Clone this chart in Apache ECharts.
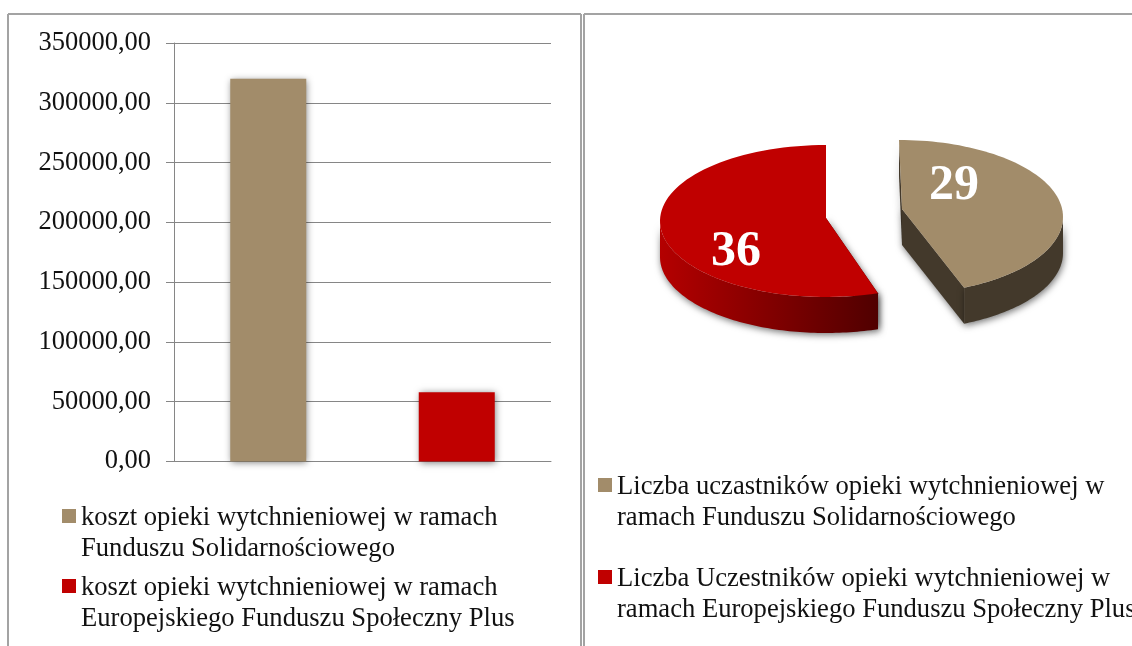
<!DOCTYPE html>
<html>
<head>
<meta charset="utf-8">
<style>html,body{margin:0;padding:0;background:#fff;overflow:hidden}#c{width:1132px;height:646px}</style>
<script src="https://cdn.jsdelivr.net/npm/echarts@6/dist/echarts.min.js"></script>
</head>
<body>
<div id="c"></div>
<script>
const costCategories = ['koszt opieki wytchnieniowej w ramach\nFunduszu Solidarnościowego', 'koszt opieki wytchnieniowej w ramach\nEuropejskiego Funduszu Społeczny Plus'];
const costValues = [320000, 58000];
const participantCategories = ['Liczba uczastników opieki wytchnieniowej w\nramach Funduszu Solidarnościowego', 'Liczba Uczestników opieki wytchnieniowej w\nramach Europejskiego Funduszu Społeczny Plus'];
const participantValues = [29, 36];
const colors = ['#a28c6a', '#c00000'];

const FONT = '"Liberation Serif","Times New Roman",serif';
const TEXT = '#111111';
const total = participantValues.reduce((a, b) => a + b, 0);

// Layout of each exploded slice (an elliptical pie seen in perspective)
const sliceLayout = [
  { cx: 899, cy: 217, rx: 164, ry: 77, apexDx: 3, apexDy: -8, skew0: 0, skew1: -0.07, labelDx: 55, labelDy: -31,
    wall: '#43392b', cut: '#43392b' },
  { cx: 826, cy: 221, rx: 166, ry: 76, apexDx: 0, apexDy: -3, skew0: 0.02, skew1: 0, labelDx: -90, labelDy: 31,
    wall: { type: 'linear', x: 0, y: 0, x2: 1, y2: 0, colorStops: [
      { offset: 0, color: '#b40000' }, { offset: 1, color: '#500000' } ] }, cut: '#4a0000' }
];
const DEPTH = 36;

function sliceRenderer(idx) {
  return function (params, api) {
    const value = api.value(0);
    const L = sliceLayout[idx];
    let before = 0;
    for (let i = 0; i < idx; i++) before += participantValues[i];
    const t0 = before / total * Math.PI * 2 + L.skew0;
    const t1 = (before + value) / total * Math.PI * 2 + L.skew1;
    const pt = t => [L.cx + L.rx * Math.sin(t), L.cy - L.ry * Math.cos(t)];
    const down = p => [p[0], p[1] + DEPTH];
    const apex = [L.cx + L.apexDx, L.cy + L.apexDy];
    const STEPS = 80;
    const arc = [];
    for (let i = 0; i <= STEPS; i++) arc.push(pt(t0 + (t1 - t0) * i / STEPS));

    const children = [];
    const shadow = { shadowBlur: 7, shadowColor: 'rgba(0,0,0,0.55)', shadowOffsetX: 1, shadowOffsetY: 2 };
    // cut faces
    [[arc[0], apex], [apex, arc[STEPS]]].forEach(([a, b]) => {
      children.push({ type: 'polygon', shape: { points: [a, b, down(b), down(a)] },
        style: Object.assign({ fill: L.cut }, shadow) });
    });
    // outer wall: only the front half of the rim is visible
    const front = [];
    for (let i = 0; i <= STEPS * 2; i++) {
      const t = t0 + (t1 - t0) * i / (STEPS * 2);
      if (t >= Math.PI / 2 && t <= Math.PI * 1.5) front.push(pt(t));
    }
    if (front.length > 1) {
      const wallPts = front.concat(front.slice().reverse().map(down));
      children.push({ type: 'polygon', shape: { points: wallPts }, style: Object.assign({ fill: L.wall }, shadow) });
    }
    // top face
    children.push({ type: 'polygon', shape: { points: arc.concat([apex]) }, style: { fill: colors[idx] } });
    // value label
    children.push({ type: 'text', style: {
      x: L.cx + L.labelDx, y: L.cy + L.labelDy, text: String(value), fill: '#ffffff',
      font: 'bold 50px ' + FONT, align: 'center', verticalAlign: 'middle' } });
    return { type: 'group', children };
  };
}

const iconPath = 'path://M0,0L0,0M0,62L0,62M0,6.5H14V20.5H0Z';
const legendBase = {
  orient: 'vertical', icon: iconPath, itemWidth: 14, itemHeight: 62, selectedMode: false, padding: 0,
  itemStyle: { shadowBlur: 0, shadowColor: 'transparent', shadowOffsetX: 0, shadowOffsetY: 0 },
  textStyle: { fontFamily: FONT, fontSize: 26.6, lineHeight: 31, color: TEXT }
};
const frame = { stroke: '#a3a3a3', lineWidth: 2 };
const line = (x1, y1, x2, y2) => ({ type: 'line', shape: { x1, y1, x2, y2 }, style: frame, silent: true });

const option = {
  backgroundColor: '#ffffff',
  animation: false,
  graphic: { elements: [
    line(8, 14, 581, 14), line(8, 14, 8, 646), line(581, 14, 581, 646),
    line(584, 14, 1132, 14), line(584, 14, 584, 646)
  ] },
  grid: { left: 174, top: 43, width: 377, height: 418.5 },
  xAxis: { type: 'category', data: costCategories,
    axisLine: { lineStyle: { color: '#868686', width: 1 } }, axisTick: { show: false }, axisLabel: { show: false } },
  yAxis: { type: 'value', min: 0, max: 350000, interval: 50000,
    axisLine: { show: true, lineStyle: { color: '#868686', width: 1 } },
    axisTick: { show: true, length: 8, lineStyle: { color: '#868686' } },
    splitLine: { lineStyle: { color: '#868686', width: 1 } },
    axisLabel: { margin: 23, fontFamily: FONT, fontSize: 26.5, color: TEXT,
      formatter: v => v.toFixed(2).replace('.', ',') } },
  legend: [
    Object.assign({}, legendBase, { left: 62, top: 502.5, itemGap: 8, data: costCategories }),
    Object.assign({}, legendBase, { left: 598, top: 471.5, itemGap: 30, data: participantCategories })
  ],
  series: [
    ...costCategories.map((name, i) => ({
      type: 'bar', name, barWidth: 76, barGap: '-100%',
      data: costValues.map((v, j) => (j === i ? v : null)),
      itemStyle: { color: colors[i], shadowBlur: 7, shadowColor: 'rgba(0,0,0,0.5)', shadowOffsetX: 1, shadowOffsetY: 1 }
    })),
    ...participantCategories.map((name, i) => ({
      type: 'custom', name, coordinateSystem: 'none',
      data: [[participantValues[i]]],
      itemStyle: { color: colors[i] },
      renderItem: sliceRenderer(i)
    }))
  ]
};
echarts.init(document.getElementById('c'), null, { renderer: 'canvas' }).setOption(option);
</script>
</body>
</html>
